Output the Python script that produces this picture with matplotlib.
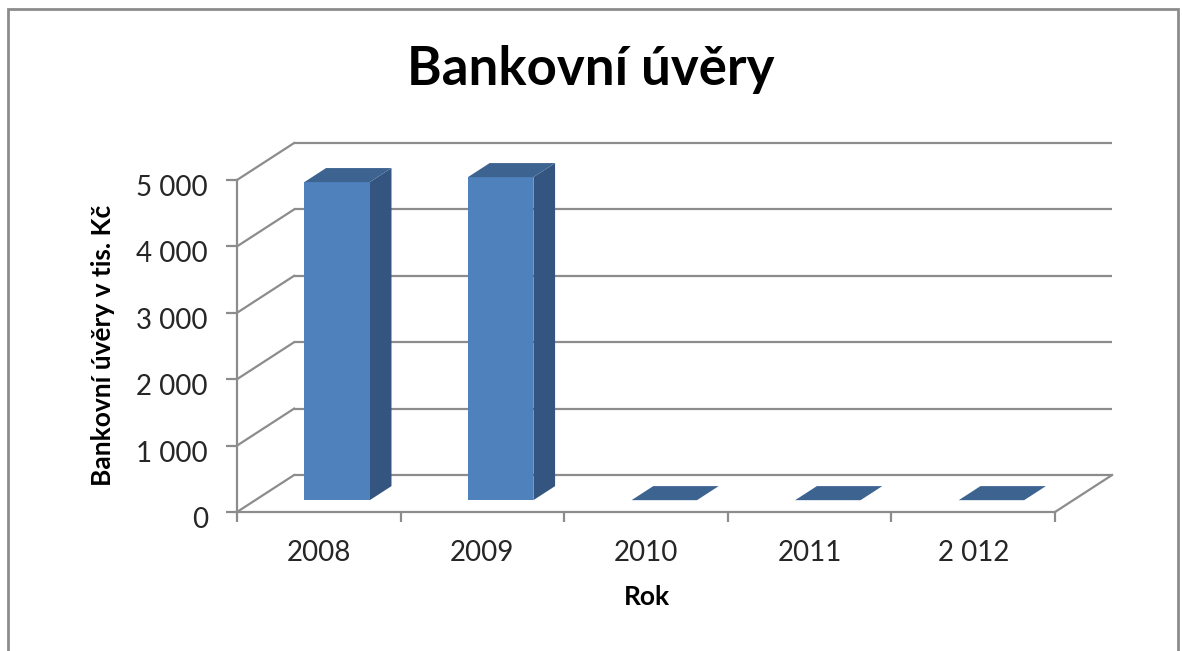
import matplotlib.pyplot as plt
from matplotlib.patches import Polygon, Rectangle
from matplotlib.transforms import ScaledTranslation

# chart data
years = ["2008", "2009", "2010", "2011", "2 012"]
loans = [4790, 4865, 0, 0, 0]
y_ticks = [0, 1000, 2000, 3000, 4000, 5000]
y_labels = ["0", "1 000", "2 000", "3 000", "4 000", "5 000"]

plt.rcParams['font.family'] = ['Lato', 'DejaVu Sans']

FRONT = "#4F81BD"
SIDE = "#34557F"
TOP = "#3D6491"
GRID = "#8C8C8C"

# depth of the pseudo 3D box, in data units
DX = 0.349
DY = 557
F0, F1 = 0.32, 0.70   # bar depth range as fraction of box depth
W = 0.40              # bar width

fig = plt.figure(figsize=(11.82, 6.51), dpi=100)
ax = fig.add_axes([237 / 1182, 139 / 651, 818 / 1182, 332 / 651])
ax.set_xlim(0, len(years))
ax.set_ylim(0, 5000)

# back wall and left wall gridlines
for v in y_ticks:
    ax.plot([DX, len(years) + DX], [v + DY, v + DY], color=GRID, lw=1.6,
            clip_on=False, zorder=1, solid_capstyle='butt')
    ax.plot([0, DX], [v, v + DY], color=GRID, lw=1.6, clip_on=False, zorder=1)
# right edge of the floor
ax.plot([len(years), len(years) + DX], [0, DY], color=GRID, lw=1.6, clip_on=False, zorder=1)

# bars
for i, val in enumerate(loans):
    x0 = i + 0.5 - W / 2 + F0 * DX
    y0 = F0 * DY
    ddx = (F1 - F0) * DX
    ddy = (F1 - F0) * DY
    if val > 0:
        ax.add_patch(Polygon([(x0 + W, y0), (x0 + W + ddx, y0 + ddy),
                              (x0 + W + ddx, y0 + ddy + val), (x0 + W, y0 + val)],
                             closed=True, facecolor=SIDE, edgecolor='none', zorder=3, clip_on=False))
        ax.add_patch(Rectangle((x0, y0), W, val, facecolor=FRONT, edgecolor='none',
                               zorder=3, clip_on=False))
    ax.add_patch(Polygon([(x0, y0 + val), (x0 + W, y0 + val),
                          (x0 + W + ddx, y0 + ddy + val), (x0 + ddx, y0 + ddy + val)],
                         closed=True, facecolor=TOP, edgecolor='none', zorder=3, clip_on=False))

# axes styling
for s in ['top', 'right']:
    ax.spines[s].set_visible(False)
for s in ['left', 'bottom']:
    ax.spines[s].set_color(GRID)
    ax.spines[s].set_linewidth(1.6)
    ax.spines[s].set_zorder(2)

ax.set_yticks(y_ticks)
ax.set_yticklabels(y_labels)
ax.tick_params(axis='y', length=8, width=1.6, color=GRID, labelsize=20, pad=13,
               labelcolor='#262626')
shift = ScaledTranslation(0, -4 / 72, fig.dpi_scale_trans)
for lab in ax.get_yticklabels():
    lab.set_transform(lab.get_transform() + shift)
ax.set_xticks(range(len(years) + 1))
ax.set_xticklabels([])
ax.set_xticks([i + 0.5 for i in range(len(years))], minor=True)
ax.set_xticklabels(years, minor=True)
ax.tick_params(axis='x', which='major', length=7, width=1.6, color=GRID)
ax.tick_params(axis='x', which='minor', length=0, labelsize=20, pad=20,
               labelcolor='#262626')
ax.set_facecolor('none')

fig.text(591 / 1182, 1 - 70 / 651, "Bankovní úvěry", ha='center', va='center',
         fontsize=38, fontweight='bold')
fig.text(103 / 1182, 1 - 345 / 651, "Bankovní úvěry v tis. Kč", ha='center', va='center',
         rotation=90, fontsize=19, fontweight='bold')
fig.text(647 / 1182, 1 - 597 / 651, "Rok", ha='center', va='center',
         fontsize=19, fontweight='bold')

# chart border
fig.patches.append(Rectangle((8 / 1182, -0.05), 1170 / 1182, 1.05 - 9 / 651,
                             transform=fig.transFigure, fill=False,
                             edgecolor='#8C8C8C', lw=2))

fig.savefig("out.png", dpi=100)
